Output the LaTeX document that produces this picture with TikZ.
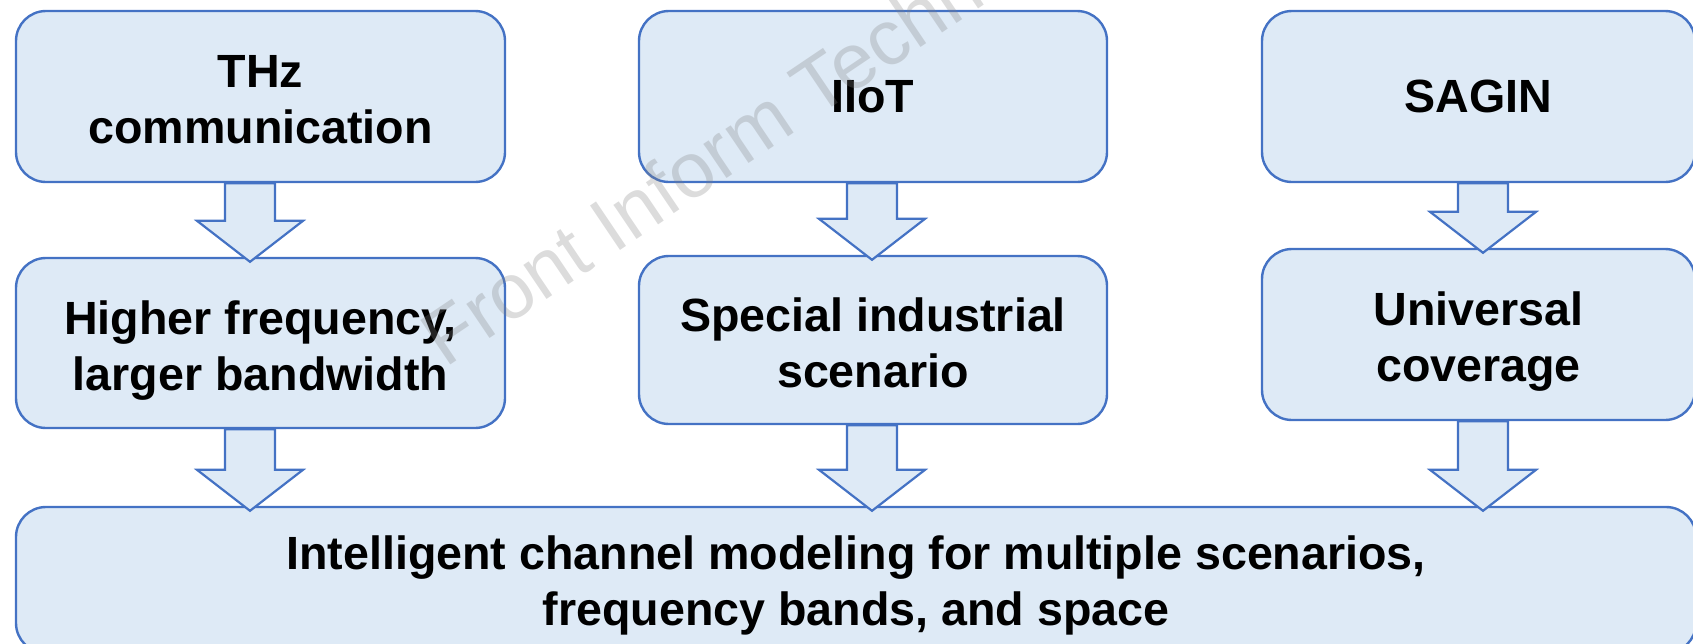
\documentclass[tikz,border=0pt]{standalone}
\usepackage{fontspec}
\setmainfont{Liberation Sans}
\usetikzlibrary{calc}

\definecolor{boxblue}{HTML}{4472C4}
\definecolor{boxfill}{HTML}{DEEAF6}

% block arrow from the bottom of one box to the top of the next
\newcommand{\flowarrow}[3]{%
  \draw[flow] let \p1=($(#1.south)+(#3,0)$), \p2=(#2.north) in
    (\x1-12.5pt,\y1) -- (\x1-12.5pt,\y2+18pt) -- (\x1-26.5pt,\y2+18pt) -- (\x1,\y2-2.5pt)
    -- (\x1+26.5pt,\y2+18pt) -- (\x1+12.5pt,\y2+18pt) -- (\x1+12.5pt,\y1) -- cycle;}

\begin{document}
\begin{tikzpicture}[x=0.5pt, y=-0.5pt,
    box/.style={draw=boxblue, line width=1.2pt, fill=boxfill, rounded corners=15pt, align=center, inner sep=0pt,
      font=\fontsize{23.3}{28}\selectfont\bfseries},
    top/.style={box, minimum height=85.5pt},
    low/.style={box, text height=52pt, text depth=5pt},
    flow/.style={draw=boxblue, line width=1.1pt, fill=boxfill, line join=miter},
    watermark/.style={font=\fontsize{39}{39}\selectfont, text=gray, opacity=0.28}]

\clip (0,0) rectangle (1693,643);

% THz column (left)
\node[top, minimum width=244.5pt, text height=47pt] (thz) at (260.5,96.5) {THz\\communication};
\node[low, minimum width=244.5pt, minimum height=85pt] (freq) at (260.5,343) {Higher frequency,\\larger bandwidth};

% IIoT column (middle)
\node[top, minimum width=234pt] (iiot) at (873,96.5) {IIoT};
\node[low, minimum width=234pt, minimum height=84pt] (ind) at (873,340) {Special industrial\\scenario};

% SAGIN column (right)
\node[top, minimum width=216.5pt] (sagin) at (1478.5,96.5) {SAGIN};
\node[low, minimum width=216.5pt, minimum height=85.5pt] (cover) at (1478.5,334.5) {Universal\\coverage};

% Common goal (bottom)
\node[box, text height=50pt, text depth=5pt, minimum width=840pt, minimum height=73pt] (goal) at (856,580) {Intelligent channel modeling for multiple scenarios,\\frequency bands, and space};

% Block arrows
\flowarrow{thz}{freq}{-10.5}
\flowarrow{iiot}{ind}{-1}
\flowarrow{sagin}{cover}{4.5}
\flowarrow{freq}{goal}{-10.5}
\flowarrow{ind}{goal}{-1}
\flowarrow{cover}{goal}{4.5}

\node[watermark, rotate=34, anchor=base west] (wm) at (440,372) {Front Inform Techn};
\end{tikzpicture}
\end{document}
